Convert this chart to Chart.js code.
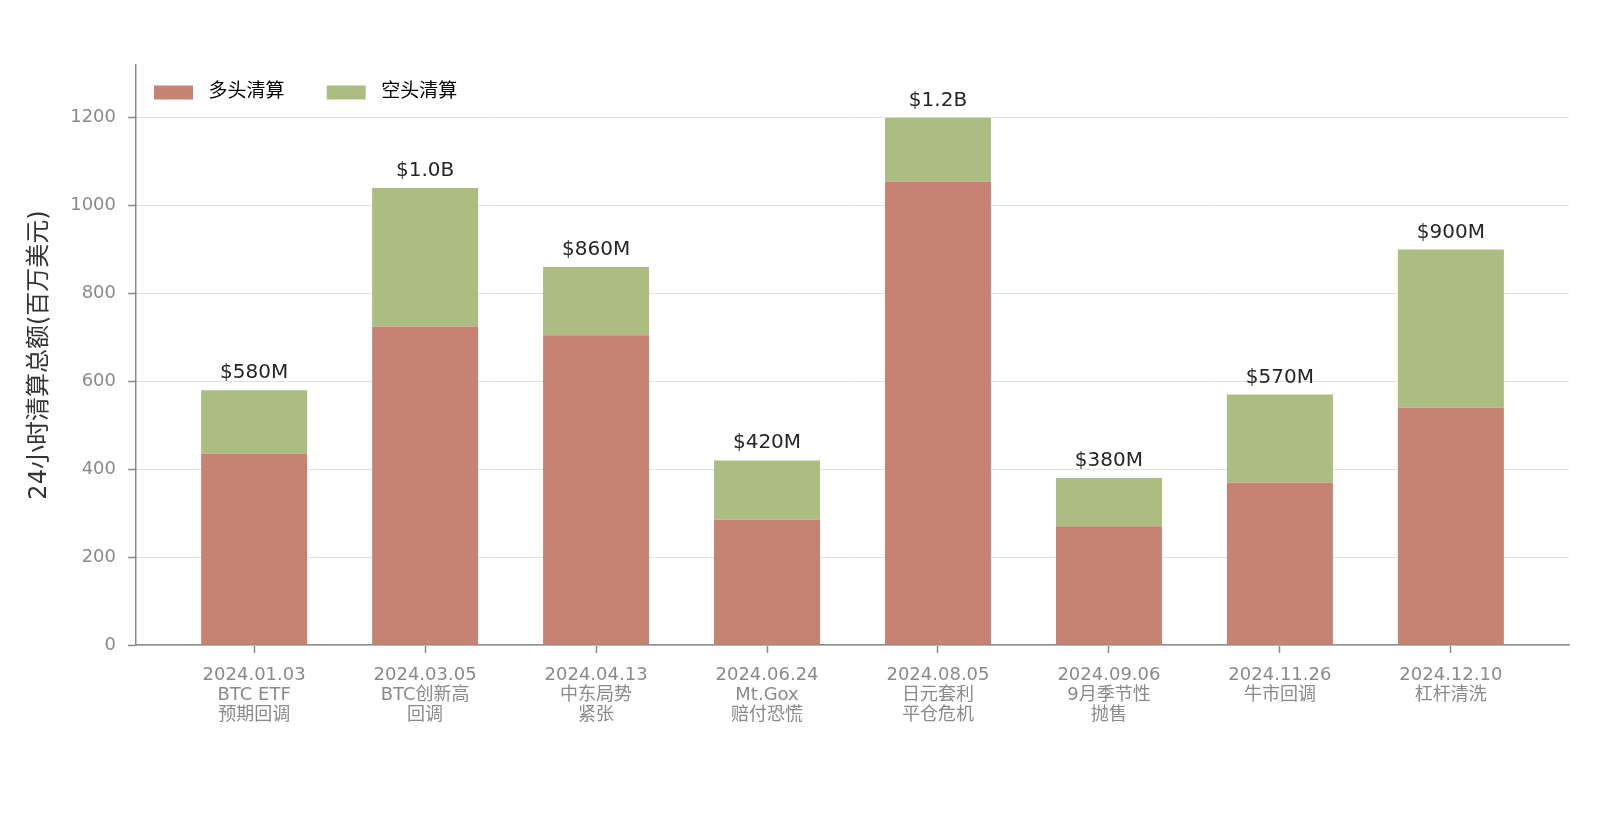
<!DOCTYPE html>
<html>
<head>
<meta charset="utf-8">
<script src="https://cdn.jsdelivr.net/npm/chart.js@4.4.1/dist/chart.umd.min.js"></script>
<style>
  html, body { margin: 0; padding: 0; background: #ffffff; }
  #wrap { width: 1600px; height: 822px; position: relative; }
</style>
</head>
<body>
<div id="wrap"><canvas id="c" width="1600" height="822"></canvas></div>
<script>
// ---- data ----
const dates = ['2024.01.03', '2024.03.05', '2024.04.13', '2024.06.24', '2024.08.05', '2024.09.06', '2024.11.26', '2024.12.10'];
const events = [['BTC ETF', '预期回调'], ['BTC创新高', '回调'], ['中东局势', '紧张'], ['Mt.Gox', '赔付恐慌'], ['日元套利', '平仓危机'], ['9月季节性', '抛售'], ['牛市回调'], ['杠杆清洗']];
const longLiq = [435, 725, 705, 285, 1055, 270, 370, 540];
const shortLiq = [145, 315, 155, 135, 145, 110, 200, 360];
const totalLabels = ['$580M', '$1.0B', '$860M', '$420M', '$1.2B', '$380M', '$570M', '$900M'];
const seriesNames = ['多头清算', '空头清算'];
const yTicks = [0, 200, 400, 600, 800, 1000, 1200];
const yTitle = '24小时清算总额(百万美元)';

const FONT = '"DejaVu Sans", "Noto Sans CJK SC", sans-serif';
const RED = '#c68373';
const GREEN = '#abbd80';
const AXIS = '#8a8a8a';

const totalsPlugin = {
  id: 'totals',
  afterInit(chart) {
    if (chart.legend) chart.legend.isHorizontal = () => true;
  },
  afterLayout(chart) {
    const lg = chart.legend;
    const ca = chart.chartArea;
    if (lg) {
      lg.left = ca.left;
      lg.right = ca.right;
      lg.top = ca.top;
      lg.bottom = ca.top + lg.height;
      lg.width = ca.right - ca.left;
    }
  },
  afterDatasetsDraw(chart) {
    const meta = chart.getDatasetMeta(1);
    const ctx = chart.ctx;
    ctx.save();
    ctx.font = '20px ' + FONT;
    ctx.fillStyle = '#262626';
    ctx.textAlign = 'center';
    ctx.textBaseline = 'alphabetic';
    meta.data.forEach((bar, i) => {
      ctx.fillText(totalLabels[i], bar.x, bar.y - 12);
    });
    ctx.restore();
  }
};

new Chart(document.getElementById('c'), {
  type: 'bar',
  data: {
    datasets: [
      { label: seriesNames[0], data: longLiq.map((v, i) => ({ x: i, y: v })), backgroundColor: RED, borderWidth: 0 },
      { label: seriesNames[1], data: shortLiq.map((v, i) => ({ x: i, y: v })), backgroundColor: GREEN, borderWidth: 0 }
    ]
  },
  options: {
    responsive: false,
    animation: false,
    devicePixelRatio: 1,
    layout: { padding: { left: 0, right: 31, top: 65, bottom: 0 } },
    datasets: { bar: { categoryPercentage: 0.62, barPercentage: 1.0 } },
    plugins: {
      tooltip: { enabled: false },
      legend: {
        position: 'chartArea',
        align: 'start',
        labels: {
          boxWidth: 39,
          boxHeight: 14,
          padding: 18,
          color: '#333333',
          font: { family: FONT, size: 19 },
          generateLabels(chart) {
            return chart.data.datasets.map((ds, i) => ({
              text: ' ' + ds.label + '    ',
              fillStyle: ds.backgroundColor,
              strokeStyle: ds.backgroundColor,
              lineWidth: 0,
              hidden: false,
              datasetIndex: i
            }));
          }
        }
      }
    },
    scales: {
      x: {
        type: 'linear',
        stacked: true,
        offset: false,
        min: -0.691,
        max: 7.691,
        afterBuildTicks(scale) { scale.ticks = dates.map((_, i) => ({ value: i })); },
        afterFit(scale) { scale.height = 177; },
        grid: { offset: false, drawOnChartArea: false, drawTicks: true, tickLength: 8, tickColor: AXIS, tickWidth: 1.5 },
        border: { display: true, color: AXIS, width: 1.5 },
        ticks: {
          autoSkip: false,
          maxRotation: 0,
          padding: 12,
          color: AXIS,
          font: { family: FONT, size: 18, lineHeight: 1.12 },
          callback(v) { return [dates[v]].concat(events[v]); }
        }
      },
      y: {
        stacked: true,
        min: 0,
        max: 1320,
        afterBuildTicks(scale) { scale.ticks = yTicks.map(v => ({ value: v })); },
        afterFit(scale) { scale.width = 136; },
        grid: { color: '#e3e3e3', lineWidth: 1, drawTicks: true, tickLength: 8, tickColor: AXIS, tickWidth: 1.5 },
        border: { display: true, color: AXIS, width: 1.5 },
        ticks: { padding: 12, color: AXIS, font: { family: FONT, size: 18 }, callback(v) { return String(v); } },
        title: { display: true, text: yTitle, color: '#333333', font: { family: FONT, size: 24 }, padding: { top: 25, bottom: 0 } }
      }
    }
  },
  plugins: [totalsPlugin]
});
</script>
</body>
</html>
